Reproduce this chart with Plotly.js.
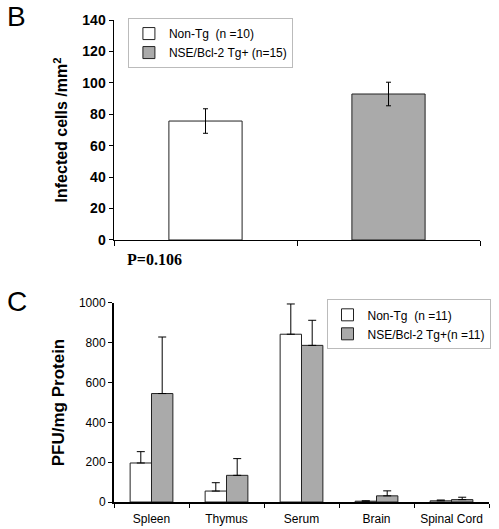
<!DOCTYPE html>
<html>
<head>
<meta charset="utf-8">
<script src="https://cdn.plot.ly/plotly-3.0.1.min.js"></script>
<style>html,body{margin:0;padding:0;background:#fff;}</style>
</head>
<body>
<div id="chart" style="width:499px;height:529px;"></div>
<script>
// Panel B data
const bCategories = ["Non-Tg", "NSE/Bcl-2 Tg+"];
const bNames = ["Non-Tg  (n =10)", "NSE/Bcl-2 Tg+ (n=15)"];
const bValues = [75.7, 92.9];
const bErrors = [7.8, 7.5];

// Panel C data
const cCategories = ["Spleen", "Thymus", "Serum", "Brain", "Spinal Cord"];
const cNames = ["Non-Tg  (n =11)", "NSE/Bcl-2 Tg+(n =11)"];
const cNonTg = [196, 55, 843, 4, 6];
const cNonTgErr = [57, 42, 152, 2, 4];
const cNse = [545, 134, 787, 31, 12];
const cNseErr = [284, 84, 126, 25, 12];

const WHITE = "#ffffff", GRAY = "#aaaaaa", EDGE = "#222222";
const sans = "Liberation Sans, Arial, sans-serif";

const traces = [
  {type: "bar", x: [bCategories[0]], y: [bValues[0]], name: bNames[0],
   xaxis: "x", yaxis: "y", legend: "legend", width: 0.4, offset: -0.2,
   marker: {color: WHITE, line: {color: EDGE, width: 1}},
   error_y: {type: "data", array: [bErrors[0]], color: "#000", thickness: 1, width: 2.5}},
  {type: "bar", x: [bCategories[1]], y: [bValues[1]], name: bNames[1],
   xaxis: "x", yaxis: "y", legend: "legend", width: 0.4, offset: -0.2,
   marker: {color: GRAY, line: {color: EDGE, width: 1}},
   error_y: {type: "data", array: [bErrors[1]], color: "#000", thickness: 1, width: 2.5}},
  {type: "bar", x: cCategories, y: cNonTg, name: cNames[0],
   xaxis: "x2", yaxis: "y2", legend: "legend2", width: 0.285, offset: -0.285,
   marker: {color: WHITE, line: {color: EDGE, width: 1}},
   error_y: {type: "data", symmetric: false, array: cNonTgErr, arrayminus: cNonTg.map(() => 0),
             color: "#000", thickness: 1, width: 4}},
  {type: "bar", x: cCategories, y: cNse, name: cNames[1],
   xaxis: "x2", yaxis: "y2", legend: "legend2", width: 0.285, offset: 0,
   marker: {color: GRAY, line: {color: EDGE, width: 1}},
   error_y: {type: "data", symmetric: false, array: cNseErr, arrayminus: cNse.map(() => 0),
             color: "#000", thickness: 1, width: 4}}
];

const legendStyle = {
  bgcolor: "#ffffff", bordercolor: "#bbbbbb", borderwidth: 1,
  font: {family: sans, size: 12, color: "#000"},
  yanchor: "top", tracegroupgap: 0, itemwidth: 30,
  traceorder: "normal"
};

const layout = {
  width: 499, height: 529,
  margin: {l: 114, r: 8, t: 20, b: 27, pad: 0},
  paper_bgcolor: "#fff", plot_bgcolor: "#fff",
  showlegend: true,
  barmode: "group",
  font: {family: sans, color: "#000"},
  xaxis: {domain: [0, 0.976], anchor: "y", type: "category",
          showticklabels: false, ticks: "outside", tickson: "boundaries", ticklen: 5,
          tickcolor: "#000", showline: true, linecolor: "#000", linewidth: 1.5,
          showgrid: false, zeroline: false, fixedrange: true},
  yaxis: {domain: [0.5436, 1], anchor: "x", range: [0, 140], dtick: 20,
          ticks: "outside", ticklen: 4, tickcolor: "#000",
          showline: true, linecolor: "#000", linewidth: 1.5, showgrid: false, zeroline: false,
          tickfont: {family: sans, size: 14, weight: "bold", color: "#000"},
          title: {text: "Infected cells /mm<sup>2</sup>", standoff: 10,
                  font: {family: sans, size: 16, weight: "bold", color: "#000"}}},
  xaxis2: {domain: [0, 1], anchor: "y2", type: "category", tickangle: 0, automargin: false,
           ticks: "outside", tickson: "boundaries", ticklen: 4, tickcolor: "#000",
           ticklabelstandoff: 5,
           showline: true, linecolor: "#000", linewidth: 2, showgrid: false, zeroline: false,
           tickfont: {family: sans, size: 12, color: "#000"}},
  yaxis2: {domain: [0, 0.4129], anchor: "x2", range: [0, 1000], dtick: 200,
           ticks: "outside", ticklen: 4, tickcolor: "#000",
           showline: true, linecolor: "#000", linewidth: 2, showgrid: false, zeroline: false,
           tickfont: {family: sans, size: 12, color: "#000"},
           title: {text: "PFU/mg Protein", standoff: 10,
                   font: {family: sans, size: 17, weight: "bold", color: "#000"}}},
  legend: Object.assign({}, legendStyle, {x: 0.0371, y: 1.004, xanchor: "left"}),
  legend2: Object.assign({}, legendStyle, {x: 1.004, y: 0.4205, xanchor: "right"}),
  annotations: [
    {text: "B", xref: "paper", yref: "paper", x: -0.26, y: 1.008, xanchor: "center", yanchor: "middle",
     showarrow: false, font: {family: sans, size: 28, color: "#000"}},
    {text: "C", xref: "paper", yref: "paper", x: -0.26, y: 0.415, xanchor: "center", yanchor: "middle",
     showarrow: false, font: {family: sans, size: 28, color: "#000"}},
    {text: "P=0.106", xref: "paper", yref: "paper", x: 0.1088, y: 0.504, xanchor: "center", yanchor: "middle",
     showarrow: false, font: {family: "Liberation Serif, Times New Roman, serif", size: 16, weight: "bold", color: "#000"}}
  ]
};

Plotly.newPlot("chart", traces, layout, {displayModeBar: false, staticPlot: true});
</script>
</body>
</html>
